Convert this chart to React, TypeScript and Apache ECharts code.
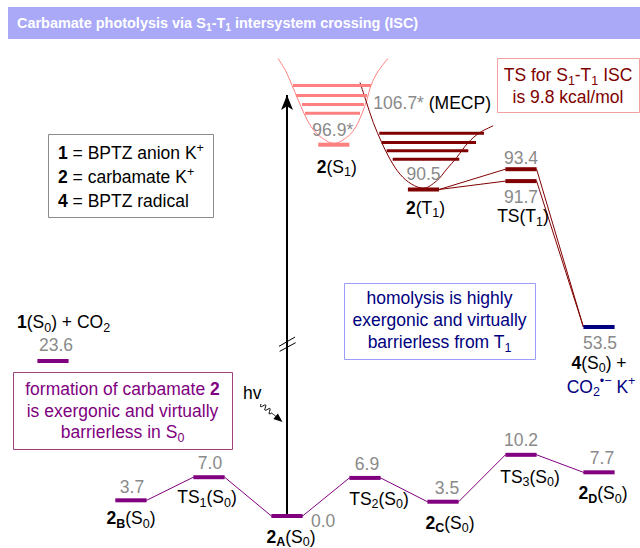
import React, { useEffect, useRef } from 'react';
import * as echarts from 'echarts';

// ---------------- data ----------------
// Ground-state (S0) stationary points: reaction coordinate index and free energy (kcal/mol)
const groundNames = ['1(S0) + CO2', '2B(S0)', 'TS1(S0)', '2A(S0)', 'TS2(S0)', '2C(S0)', 'TS3(S0)', '2D(S0)'];
const groundCoord = [0, 1, 2, 3, 4, 5, 6, 7];
const groundEnergy = [23.6, 3.7, 7.0, 0.0, 6.9, 3.5, 10.2, 7.7];
const groundLabels = [
  '{b|1}(S{s|0}) + CO{s|2}',
  '{b|2}{bs|B}(S{s|0})',
  'TS{s|1}(S{s|0})',
  '{b|2}{bs|A}(S{s|0})',
  'TS{s|2}(S{s|0})',
  '{b|2}{bs|C}(S{s|0})',
  'TS{s|3}(S{s|0})',
  '{b|2}{bs|D}(S{s|0})',
];

// Excited-state / triplet points
const excitedNames = ['2(S1)', '2(T1)', 'TS(T1) upper', 'TS(T1) lower', '4(S0) + CO2•− K+'];
const excitedCoord = [3.6, 4.75, 6.0, 6.0, 7.0];
const excitedEnergy = [96.9, 90.5, 93.4, 91.7, 53.5];
const excitedMarks = ['*', '', '', '', ''];
const excitedLabels = ['{b|2}(S{s|1})', '{b|2}(T{s|1})', '', 'TS(T{s|1})', '{b|4}(S{s|0}) +'];
const excitedExtra = ['', '', '', '', 'CO{s|2}{p|•−} K{p|+}'];

// Schematic potential wells (reaction coordinate, energy)
const s1WellCoord = [2.885, 2.987, 3.064, 3.141, 3.218, 3.308, 3.423, 3.603, 3.782, 3.885, 3.962, 4.026, 4.077, 4.167, 4.295];
const s1WellEnergy = [109.23, 107.37, 105.37, 103.37, 101.37, 99.51, 98.09, 97.1, 98.09, 99.51, 101.37, 103.37, 105.37, 107.37, 109.23];
const t1WellCoord = [3.936, 4.013, 4.106, 4.214, 4.321, 4.449, 4.599, 4.747, 4.919, 5.047, 5.176, 5.324, 5.474, 5.645];
const t1WellEnergy = [105.79, 103.17, 100.07, 97.21, 94.83, 92.69, 91.26, 90.69, 91.74, 93.4, 95.07, 97.21, 98.64, 99.6];

// Vibrational levels inside the wells
const s1VibStart = [3.077, 3.115, 3.192, 3.231];
const s1VibEnd = [4.077, 4.026, 3.987, 3.936];
const s1VibEnergy = [105.37, 103.94, 102.66, 101.41];
const t1VibStart = [4.183, 4.214, 4.278, 4.355];
const t1VibEnd = [5.526, 5.423, 5.324, 5.209];
const t1VibEnergy = [98.54, 97.21, 96.03, 94.83];

// MECP (drawn crossing point) and its energy label
const mecpCoord = 4.017;
const mecpDrawnEnergy = 103.07;
const mecpEnergy = 106.7;

// Excitation arrow from 2A(S0) up to the S1 region
const excitationCoord = 3;
const excitationTop = 104.0;

// Energy axis breaks (schematic, non-linear energy axis)
const yBreaks = [
  { start: 0.2, end: 3.2, gap: 1.54 },
  { start: 24.5, end: 52.5, gap: 2.96 },
  { start: 54.5, end: 89.5, gap: 17.64 },
];

const legendLines = ['{b|1} = BPTZ anion K{p|+}', '{b|2} = carbamate K{p|+}', '{b|4} = BPTZ radical'];
const tsBoxLines = ['TS for S{s|1}-T{s|1} ISC', 'is 9.8 kcal/mol'];
const formationLines = ['formation of carbamate {b|2}', 'is exergonic and virtually', 'barrierless in S{s|0}'];
const homolysisLines = ['homolysis is highly', 'exergonic and virtually', 'barrierless from T{s|1}'];

// ---------------- styles ----------------
const FONT = '"Liberation Sans", Arial, Helvetica, sans-serif';
const FS = 17.5;
const SUB = 12.5;
const GREY = '#8a8a8a';
const PURPLE = '#800080';
const PINK = '#ff8080';
const DARKRED = '#800000';
const NAVY = '#000080';
const HALF = 0.2;
const excitedColors = [PINK, DARKRED, DARKRED, DARKRED, NAVY];

type Spec = [string, number, number, string];
const groundLayout: Spec[][] = [
  [['v', 3, -16, 'center'], ['n', -36, -39, 'left']],
  [['v', 1, -13, 'center'], ['n', 0, 18, 'center']],
  [['v', 1, -14, 'center'], ['n', -2, 20, 'center']],
  [['v', 24, 5, 'left'], ['n', 4, 21, 'center']],
  [['v', 2, -14, 'center'], ['n', 14, 21, 'center']],
  [['v', 4, -14, 'center'], ['n', 7, 21, 'center']],
  [['v', 0, -15, 'center'], ['n', 9, 22, 'center']],
  [['v', 3, -14, 'center'], ['n', 4, 21, 'center']],
];
const excitedLayout: Spec[][] = [
  [['v', -1, -15, 'center'], ['n', 3, 22, 'center']],
  [['v', 0, -16, 'center'], ['n', 2, 18, 'center']],
  [['v', 0, -11, 'center']],
  [['v', 0, 16, 'center'], ['n', 2, 35, 'center']],
  [['v', 1, 16, 'center'], ['n', 0, 36, 'center'], ['x', 2, 60, 'center']],
];

function rich(color: string, lh: number) {
  const base = { fill: color, fontFamily: FONT };
  return {
    b: { ...base, fontSize: FS, fontWeight: 'bold', lineHeight: lh },
    s: { ...base, fontSize: SUB, lineHeight: 6, verticalAlign: 'bottom' },
    bs: { ...base, fontSize: SUB, fontWeight: 'bold', lineHeight: 6, verticalAlign: 'bottom' },
    p: { ...base, fontSize: SUB, lineHeight: 6, verticalAlign: 'top' },
    g: { ...base, fill: GREY, fontSize: FS, lineHeight: lh },
  };
}

function txt(x: number, y: number, text: string, color: string, align = 'center', extra: any = {}) {
  const lh = /\{(s|bs|p)\|/.test(text) ? 24 : 20;
  return {
    type: 'text',
    x,
    y,
    silent: true,
    ...extra,
    style: {
      text,
      fill: color,
      fontSize: FS,
      fontFamily: FONT,
      lineHeight: lh,
      align,
      textAlign: align,
      verticalAlign: 'middle',
      textVerticalAlign: 'middle',
      rich: rich(color, lh),
      ...(extra.style || {}),
    },
  };
}

function levelSeries(id: string, coords: number[], energies: number[], colors: string[], layout: Spec[][], names: string[], marks: string[], extras: string[]) {
  return {
    type: 'custom',
    id,
    silent: true,
    clip: false,
    z: 6,
    data: coords.map((c, i) => [c, energies[i]]),
    encode: { x: 0, y: 1 },
    renderItem: (params: any, api: any) => {
      const i = params.dataIndex;
      const x = api.value(0);
      const e = api.value(1);
      const a = api.coord([x - HALF, e]);
      const b = api.coord([x + HALF, e]);
      const c = api.coord([x, e]);
      const color = colors[i];
      const children: any[] = [
        { type: 'line', shape: { x1: a[0], y1: a[1], x2: b[0], y2: b[1] }, style: { stroke: color, lineWidth: 4 } },
      ];
      for (const [kind, dx, dy, align] of layout[i]) {
        if (kind === 'v') children.push(txt(c[0] + dx, c[1] + dy, e.toFixed(1) + (marks[i] || ''), GREY, align));
        else if (kind === 'n') children.push(txt(c[0] + dx, c[1] + dy, names[i], '#000', align));
        else children.push(txt(c[0] + dx, c[1] + dy, extras[i], NAVY, align));
      }
      return { type: 'group', children };
    },
  };
}

function vibSeries(id: string, starts: number[], ends: number[], energies: number[], color: string) {
  return {
    type: 'custom',
    id,
    silent: true,
    clip: false,
    z: 4,
    data: starts.map((s, i) => [s, ends[i], energies[i]]),
    encode: { x: [0, 1], y: 2 },
    renderItem: (params: any, api: any) => {
      const a = api.coord([api.value(0), api.value(2)]);
      const b = api.coord([api.value(1), api.value(2)]);
      return { type: 'line', shape: { x1: a[0], y1: a[1], x2: b[0], y2: b[1] }, style: { stroke: color, lineWidth: 3 } };
    },
  };
}

function pathSeries(id: string, pts: number[][], color: string, width: number, smooth: any = false, extra: any = {}) {
  return {
    type: 'line',
    id,
    data: pts,
    showSymbol: false,
    symbol: 'none',
    silent: true,
    smooth,
    lineStyle: { color, width },
    itemStyle: { color },
    emphasis: { disabled: true },
    z: 3,
    ...extra,
  };
}

function buildOption() {
  // S0 path: bar ends of 2B ... 2D (1(S0)+CO2 is not connected)
  const groundPath: number[][] = [];
  for (let i = 1; i < groundCoord.length; i++) {
    groundPath.push([groundCoord[i] - HALF, groundEnergy[i]], [groundCoord[i] + HALF, groundEnergy[i]]);
  }
  const tsUpper = [
    [excitedCoord[1] + HALF, excitedEnergy[1]],
    [excitedCoord[2] - HALF, excitedEnergy[2]],
    [excitedCoord[2] + HALF, excitedEnergy[2]],
    [excitedCoord[4] - HALF, excitedEnergy[4]],
  ];
  const tsLower = [
    [excitedCoord[1] + HALF, excitedEnergy[1]],
    [excitedCoord[3] - HALF, excitedEnergy[3]],
    [excitedCoord[3] + HALF, excitedEnergy[3]],
    [excitedCoord[4] - HALF, excitedEnergy[4]],
  ];
  return {
    animation: false,
    grid: { left: 53, right: 41, top: 46, bottom: 18 },
    xAxis: { type: 'value', min: 0, max: 7, show: false },
    yAxis: { type: 'value', min: -2, max: 111, show: false, breaks: yBreaks },
    series: [
      pathSeries('groundPath', groundPath, PURPLE, 1, false, {
        markLine: {
          silent: true,
          symbol: ['none', 'arrow'],
          symbolSize: [9, 15],
          lineStyle: { color: '#000', width: 2, type: 'solid' },
          label: { show: false },
          emphasis: { disabled: true },
          data: [[{ coord: [excitationCoord, groundEnergy[3]] }, { coord: [excitationCoord, excitationTop] }]],
        },
      }),
      pathSeries('tsUpper', tsUpper, DARKRED, 1),
      pathSeries('tsLower', tsLower, DARKRED, 1),
      pathSeries('s1Well', s1WellCoord.map((c, i) => [c, s1WellEnergy[i]]), PINK, 1, 0.35),
      pathSeries('t1Well', t1WellCoord.map((c, i) => [c, t1WellEnergy[i]]), DARKRED, 1, 0.35),
      vibSeries('s1Vib', s1VibStart, s1VibEnd, s1VibEnergy, PINK),
      vibSeries('t1Vib', t1VibStart, t1VibEnd, t1VibEnergy, DARKRED),
      levelSeries('groundLevels', groundCoord, groundEnergy, groundCoord.map(() => PURPLE), groundLayout, groundLabels, [], []),
      levelSeries('excitedLevels', excitedCoord, excitedEnergy, excitedColors, excitedLayout, excitedLabels, excitedMarks, excitedExtra),
    ],
  };
}

function boxRect(x: number, y: number, w: number, h: number, stroke: string) {
  return { type: 'rect', silent: true, shape: { x: x + 0.5, y: y + 0.5, width: w, height: h }, style: { fill: 'transparent', stroke, lineWidth: 1 } };
}

function buildGraphic(chart: any) {
  const px = (x: number, y: number) => chart.convertToPixel({ gridIndex: 0 }, [x, y]);
  const base = px(excitationCoord, groundEnergy[3]);
  const ax = base[0];
  const by = base[1];
  const brA = px(excitationCoord, yBreaks[1].start)[1];
  const brB = px(excitationCoord, yBreaks[1].end)[1];
  const cy = (brA + brB) / 2;
  const mecp = px(mecpCoord, mecpDrawnEnergy);

  // squiggly hv arrow
  const sx = ax - 26, sy = by - 112;
  const tx = ax - 4.5, ty = by - 94;
  const ddx = tx - sx, ddy = ty - sy;
  const len = Math.hypot(ddx, ddy);
  const ux = ddx / len, uy = ddy / len, nx = -uy, ny = ux;
  const bodyLen = len - 8;
  const squiggle: number[][] = [];
  for (let k = 0; k <= 30; k++) {
    const t = k / 30;
    const d = t * bodyLen;
    const off = t < 0.7 ? 2.3 * Math.sin((t / 0.7) * 2.5 * 2 * Math.PI) : 0;
    squiggle.push([sx + ux * d + nx * off, sy + uy * d + ny * off]);
  }
  const hb = [tx - ux * 9, ty - uy * 9];
  const head = [[tx, ty], [hb[0] + nx * 3.5, hb[1] + ny * 3.5], [hb[0] - nx * 3.5, hb[1] - ny * 3.5]];

  const els: any[] = [
    { type: 'rect', silent: true, shape: { x: 8, y: 7, width: 632, height: 32 }, style: { fill: '#a9a9f8' } },
    txt(17, 23, '{t|Carbamate photolysis via S}{ts|1}{t|-T}{ts|1}{t| intersystem crossing (ISC)}', '#fff', 'left', {
      scaleX: 0.965,
      style: {
        lineHeight: 20,
        rich: {
          t: { fill: '#fff', fontFamily: FONT, fontSize: 15, fontWeight: 'bold', lineHeight: 20 },
          ts: { fill: '#fff', fontFamily: FONT, fontSize: 10.5, fontWeight: 'bold', lineHeight: 5, verticalAlign: 'bottom' },
        },
      },
    }),
    boxRect(48, 134, 165, 83, '#8c8c8c'),
    ...legendLines.map((l, i) => txt(58, 153 + i * 24, l, '#000', 'left')),
    boxRect(497, 58, 142, 54, '#f5a0a0'),
    ...tsBoxLines.map((l, i) => txt(568, 75 + i * 21.5, l, DARKRED)),
    boxRect(13, 372, 219, 77, '#a0407a'),
    ...formationLines.map((l, i) => txt(122.5, 389 + i * 21.5, l, PURPLE)),
    boxRect(344, 283, 191, 76, '#9c9cff'),
    ...homolysisLines.map((l, i) => txt(439.5, 298 + i * 22, l, NAVY)),
    // axis break marks on the excitation arrow
    { type: 'line', silent: true, shape: { x1: ax - 8, y1: cy + 2, x2: ax + 8, y2: cy - 7.3 }, style: { stroke: '#000', lineWidth: 1 } },
    { type: 'line', silent: true, shape: { x1: ax - 7.3, y1: cy + 7, x2: ax + 8.7, y2: cy - 1.7 }, style: { stroke: '#000', lineWidth: 1 } },
    txt(ax - 44, by - 123, 'hv', '#000', 'left'),
    { type: 'polyline', silent: true, shape: { points: squiggle }, style: { stroke: '#000', lineWidth: 1, fill: 'none' } },
    { type: 'polygon', silent: true, shape: { points: head }, style: { fill: '#000' } },
    txt(mecp[0] + 7, mecp[1] + 1, `{g|${mecpEnergy.toFixed(1)}*} (MECP)`, '#000', 'left'),
  ];
  return els;
}

export default function App() {
  const ref = useRef<HTMLDivElement>(null);
  useEffect(() => {
    document.body.style.margin = '0';
    const chart = echarts.init(ref.current as HTMLDivElement, null, { renderer: 'svg' });
    chart.setOption(buildOption() as any);
    chart.setOption({ graphic: buildGraphic(chart) } as any);
    return () => chart.dispose();
  }, []);
  return <div ref={ref} style={{ width: 640, height: 548 }} />;
}
